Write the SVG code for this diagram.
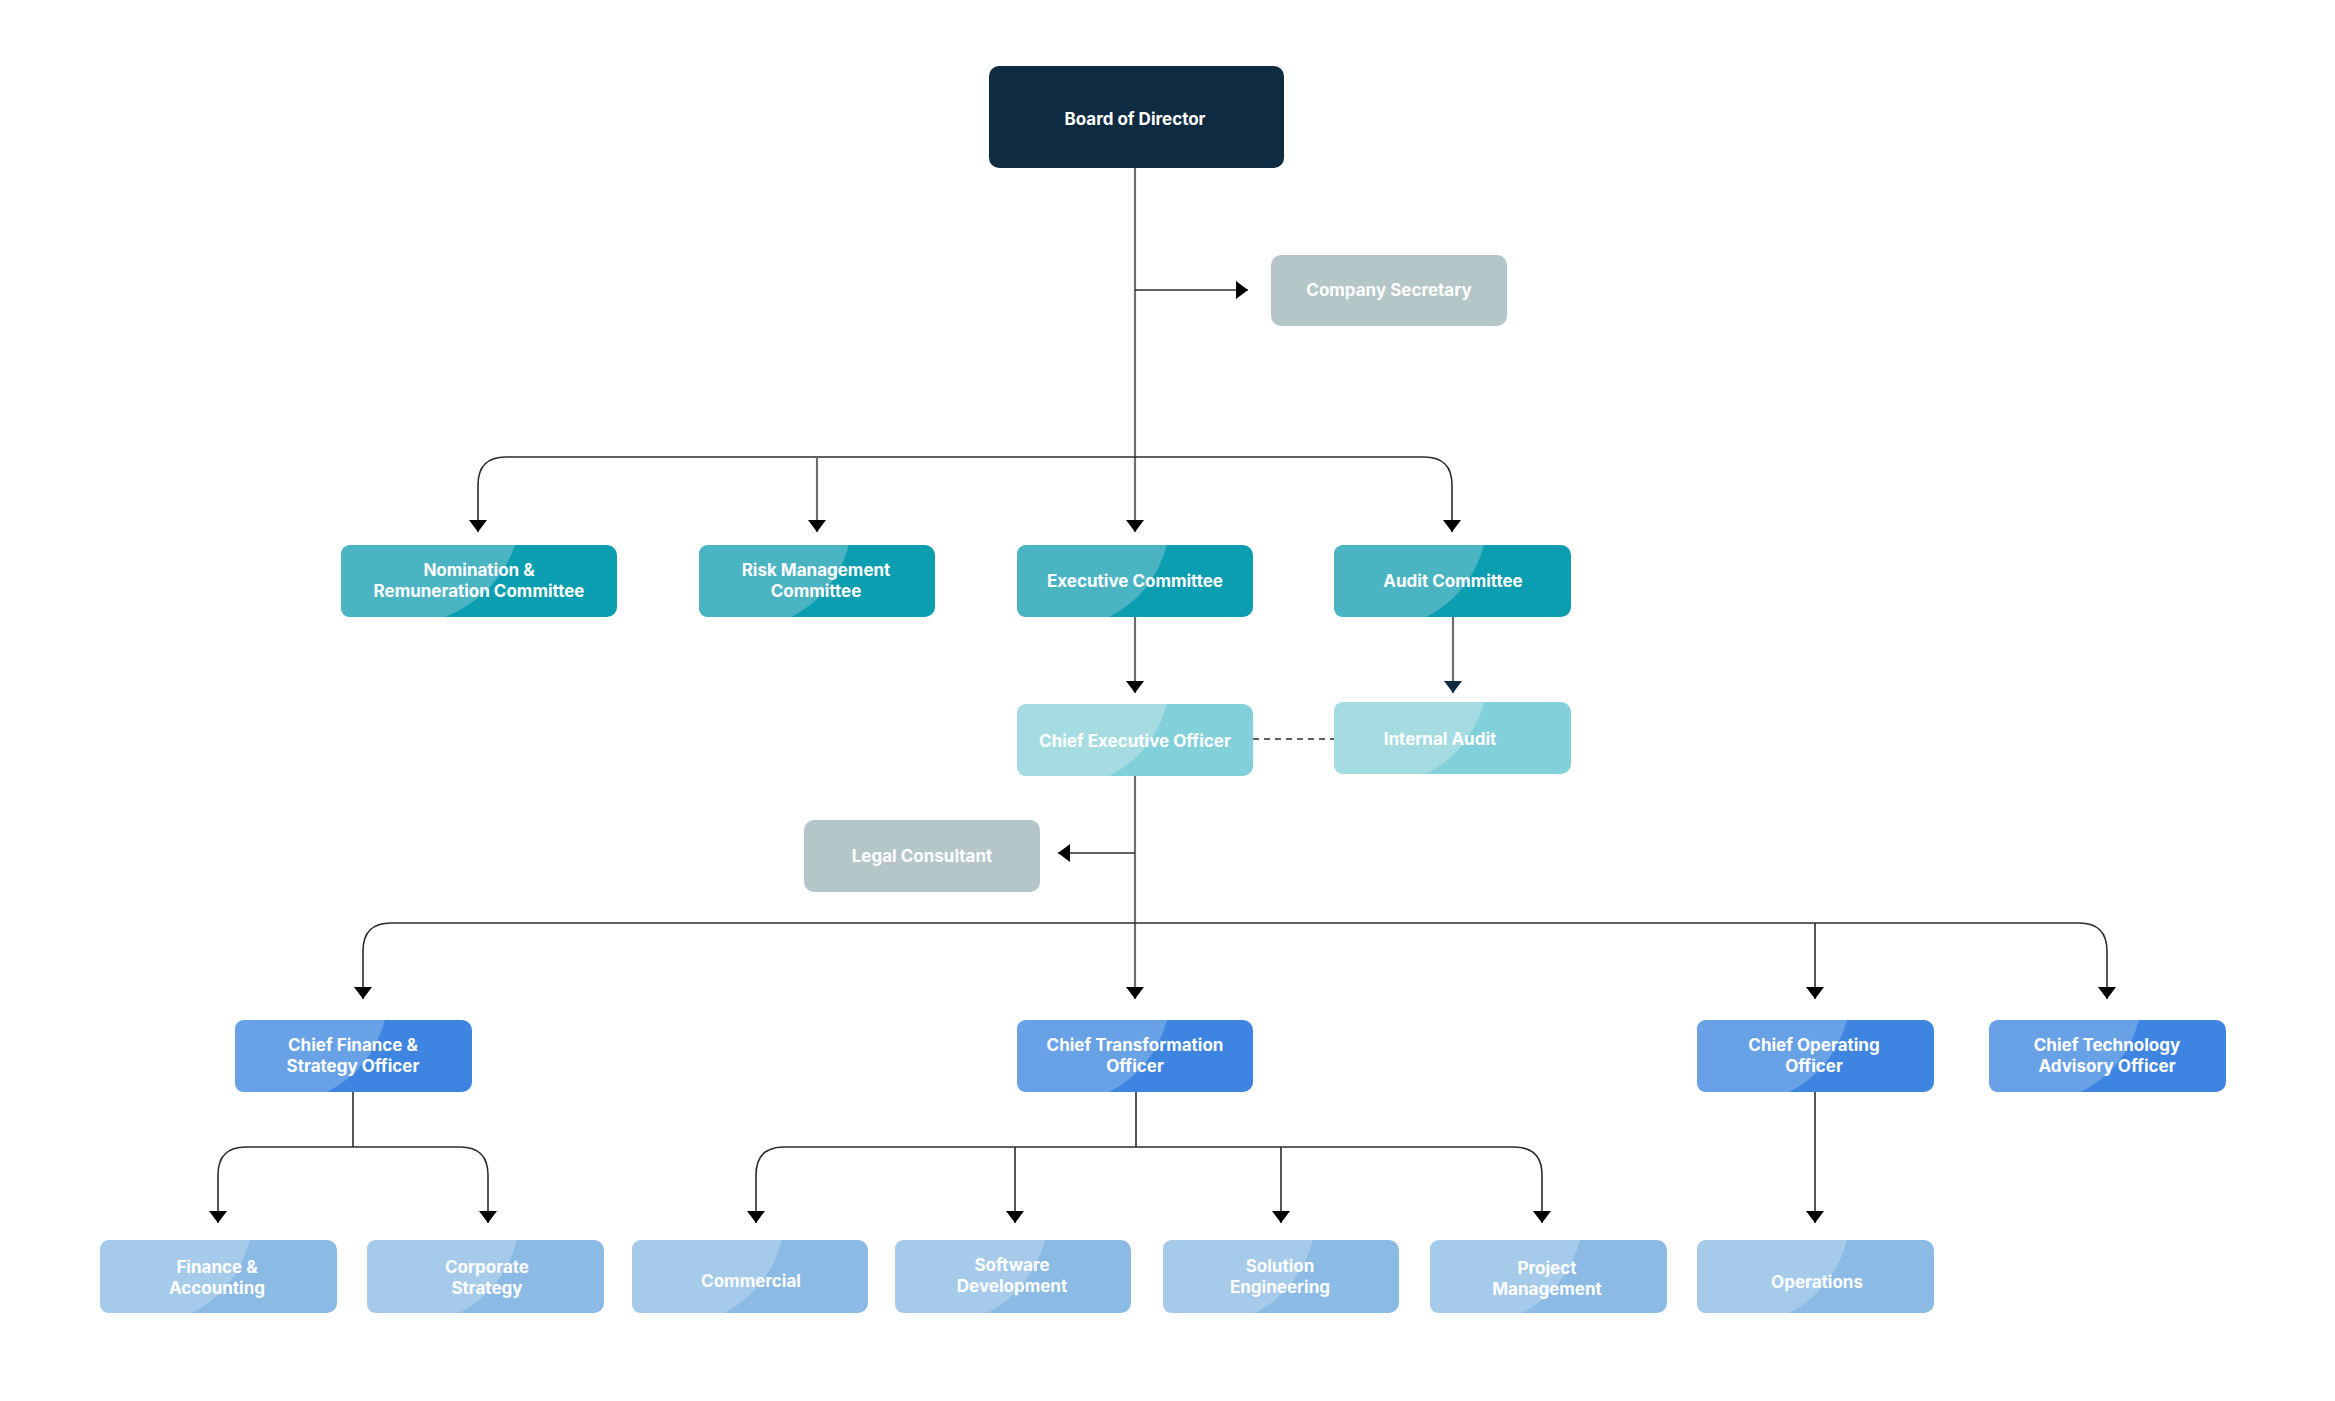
<svg xmlns="http://www.w3.org/2000/svg" width="2335" height="1401" viewBox="0 0 2335 1401">
<style>
.t{font-family:Inter,"Open Sans","Liberation Sans",sans-serif;font-weight:700;font-size:17px;fill:#ffffff;text-anchor:middle;dominant-baseline:central}
.c{fill:none;stroke:#2b2b2b;stroke-width:1.6}
.trunk{fill:none;stroke:#6e6e6e;stroke-width:2.2}
.d{fill:none;stroke:#2b2b2b;stroke-width:1.6;stroke-dasharray:6 5}
.navy{fill:#0f2b41}
.gray{fill:#b4c6c8}
.tealD{fill:#0b9db0}.tealL{fill:#4ab4c3}
.ltealD{fill:#82d0d9}.ltealL{fill:#a4dce2}
.blueD{fill:#3d85e0}.blueL{fill:#69a1e7}
.lblueD{fill:#8bbbe5}.lblueL{fill:#a6cbea}
</style>
<defs>
<marker id="ah" viewBox="0 0 12 18" refX="12" refY="9" markerWidth="12" markerHeight="18" markerUnits="userSpaceOnUse" orient="auto"><path d="M0,0 L12,9 L0,18 Z" fill="#000"/></marker>
<marker id="ahn" viewBox="0 0 12 18" refX="12" refY="9" markerWidth="12" markerHeight="18" markerUnits="userSpaceOnUse" orient="auto"><path d="M0,0 L12,9 L0,18 Z" fill="#0f2b41"/></marker>
</defs>

<g id="connectors">
<path class="trunk" d="M1135,168 V532" marker-end="url(#ah)"/>
<path class="c" d="M1135,290 H1248" marker-end="url(#ah)"/>
<path class="c" d="M1135,457 H506 Q478,457 478,485 V532" marker-end="url(#ah)"/>
<path class="c" d="M1135,457 H1424 Q1452,457 1452,485 V532" marker-end="url(#ah)"/>
<path class="trunk" d="M817,457 V532" marker-end="url(#ah)"/>
<path class="trunk" d="M1135,617 V693" marker-end="url(#ah)"/>
<path class="trunk" d="M1453,617 V693" marker-end="url(#ahn)"/>
<path class="d" d="M1253,739 H1334"/>
<path class="trunk" d="M1135,776 V999" marker-end="url(#ah)"/>
<path class="c" d="M1135,853 H1058" marker-end="url(#ah)"/>
<path class="c" d="M1135,923 H391 Q363,923 363,951 V999" marker-end="url(#ah)"/>
<path class="c" d="M1135,923 H2079 Q2107,923 2107,951 V999" marker-end="url(#ah)"/>
<path class="c" d="M1815,923 V999" marker-end="url(#ah)"/>
<path class="c" d="M353,1092 V1147"/>
<path class="c" d="M353,1147 H246 Q218,1147 218,1175 V1223" marker-end="url(#ah)"/>
<path class="c" d="M353,1147 H460 Q488,1147 488,1175 V1223" marker-end="url(#ah)"/>
<path class="c" d="M1136,1092 V1147"/>
<path class="c" d="M1136,1147 H784 Q756,1147 756,1175 V1223" marker-end="url(#ah)"/>
<path class="c" d="M1136,1147 H1514 Q1542,1147 1542,1175 V1223" marker-end="url(#ah)"/>
<path class="c" d="M1015,1147 V1223" marker-end="url(#ah)"/>
<path class="c" d="M1281,1147 V1223" marker-end="url(#ah)"/>
<path class="c" d="M1815,1092 V1223" marker-end="url(#ah)"/>
</g>

<g id="board">
<rect class="navy" x="989" y="66" width="295" height="102" rx="10"/>
<text class="t" x="1135" y="119">Board of Director</text>
</g>
<g id="company-secretary">
<rect class="gray" x="1271" y="255" width="236" height="71" rx="10"/>
<text class="t" x="1389" y="290">Company Secretary</text>
</g>

<g id="nomination">
<rect class="tealD" x="341" y="545" width="276" height="72" rx="10"/>
<path class="tealL" d="M341,555 Q341,545 351,545 H515 Q498,595 445,617 H351 Q341,617 341,607 Z"/>
<text class="t" x="479" y="570">Nomination &amp;</text>
<text class="t" x="479" y="591">Remuneration Committee</text>
</g>
<g id="risk">
<rect class="tealD" x="699" y="545" width="236" height="72" rx="10"/>
<path class="tealL" d="M699,555 Q699,545 709,545 H849 Q835,595 791,617 H709 Q699,617 699,607 Z"/>
<text class="t" x="816" y="570">Risk Management</text>
<text class="t" x="816" y="591">Committee</text>
</g>
<g id="executive">
<rect class="tealD" x="1017" y="545" width="236" height="72" rx="10"/>
<path class="tealL" d="M1017,555 Q1017,545 1027,545 H1167 Q1153,595 1109,617 H1027 Q1017,617 1017,607 Z"/>
<text class="t" x="1135" y="581">Executive Committee</text>
</g>
<g id="audit">
<rect class="tealD" x="1334" y="545" width="237" height="72" rx="10"/>
<path class="tealL" d="M1334,555 Q1334,545 1344,545 H1484 Q1470,595 1426,617 H1344 Q1334,617 1334,607 Z"/>
<text class="t" x="1453" y="581">Audit Committee</text>
</g>

<g id="ceo">
<rect class="ltealD" x="1017" y="704" width="236" height="72" rx="10"/>
<path class="ltealL" d="M1017,714 Q1017,704 1027,704 H1167 Q1153,754 1109,776 H1027 Q1017,776 1017,766 Z"/>
<text class="t" x="1135" y="741">Chief Executive Officer</text>
</g>
<g id="internal-audit">
<rect class="ltealD" x="1334" y="702" width="237" height="72" rx="10"/>
<path class="ltealL" d="M1334,712 Q1334,702 1344,702 H1484 Q1470,752 1426,774 H1344 Q1334,774 1334,764 Z"/>
<text class="t" x="1440" y="739">Internal Audit</text>
</g>

<g id="legal">
<rect class="gray" x="804" y="820" width="236" height="72" rx="10"/>
<text class="t" x="922" y="856">Legal Consultant</text>
</g>

<g id="cfso">
<rect class="blueD" x="235" y="1020" width="237" height="72" rx="10"/>
<path class="blueL" d="M235,1030 Q235,1020 245,1020 H385 Q371,1070 327,1092 H245 Q235,1092 235,1082 Z"/>
<text class="t" x="353" y="1045">Chief Finance &amp;</text>
<text class="t" x="353" y="1066">Strategy Officer</text>
</g>
<g id="ctro">
<rect class="blueD" x="1017" y="1020" width="236" height="72" rx="10"/>
<path class="blueL" d="M1017,1030 Q1017,1020 1027,1020 H1167 Q1153,1070 1109,1092 H1027 Q1017,1092 1017,1082 Z"/>
<text class="t" x="1135" y="1045">Chief Transformation</text>
<text class="t" x="1135" y="1066">Officer</text>
</g>
<g id="coo">
<rect class="blueD" x="1697" y="1020" width="237" height="72" rx="10"/>
<path class="blueL" d="M1697,1030 Q1697,1020 1707,1020 H1847 Q1833,1070 1789,1092 H1707 Q1697,1092 1697,1082 Z"/>
<text class="t" x="1814" y="1045">Chief Operating</text>
<text class="t" x="1814" y="1066">Officer</text>
</g>
<g id="ctao">
<rect class="blueD" x="1989" y="1020" width="237" height="72" rx="10"/>
<path class="blueL" d="M1989,1030 Q1989,1020 1999,1020 H2139 Q2125,1070 2081,1092 H1999 Q1989,1092 1989,1082 Z"/>
<text class="t" x="2107" y="1045">Chief Technology</text>
<text class="t" x="2107" y="1066">Advisory Officer</text>
</g>

<g id="finance-accounting">
<rect class="lblueD" x="100" y="1240" width="237" height="73" rx="10"/>
<path class="lblueL" d="M100,1250 Q100,1240 110,1240 H250 Q236,1290 192,1313 H110 Q100,1313 100,1303 Z"/>
<text class="t" x="217" y="1267">Finance &amp;</text>
<text class="t" x="217" y="1288">Accounting</text>
</g>
<g id="corporate-strategy">
<rect class="lblueD" x="367" y="1240" width="237" height="73" rx="10"/>
<path class="lblueL" d="M367,1250 Q367,1240 377,1240 H517 Q503,1290 459,1313 H377 Q367,1313 367,1303 Z"/>
<text class="t" x="487" y="1267">Corporate</text>
<text class="t" x="487" y="1288">Strategy</text>
</g>
<g id="commercial">
<rect class="lblueD" x="632" y="1240" width="236" height="73" rx="10"/>
<path class="lblueL" d="M632,1250 Q632,1240 642,1240 H782 Q768,1290 724,1313 H642 Q632,1313 632,1303 Z"/>
<text class="t" x="751" y="1281">Commercial</text>
</g>
<g id="software-dev">
<rect class="lblueD" x="895" y="1240" width="236" height="73" rx="10"/>
<path class="lblueL" d="M895,1250 Q895,1240 905,1240 H1045 Q1031,1290 987,1313 H905 Q895,1313 895,1303 Z"/>
<text class="t" x="1012" y="1265">Software</text>
<text class="t" x="1012" y="1286">Development</text>
</g>
<g id="solution-eng">
<rect class="lblueD" x="1163" y="1240" width="236" height="73" rx="10"/>
<path class="lblueL" d="M1163,1250 Q1163,1240 1173,1240 H1313 Q1299,1290 1255,1313 H1173 Q1163,1313 1163,1303 Z"/>
<text class="t" x="1280" y="1266">Solution</text>
<text class="t" x="1280" y="1287">Engineering</text>
</g>
<g id="project-mgmt">
<rect class="lblueD" x="1430" y="1240" width="237" height="73" rx="10"/>
<path class="lblueL" d="M1430,1250 Q1430,1240 1440,1240 H1580 Q1566,1290 1522,1313 H1440 Q1430,1313 1430,1303 Z"/>
<text class="t" x="1547" y="1268">Project</text>
<text class="t" x="1547" y="1289">Management</text>
</g>
<g id="operations">
<rect class="lblueD" x="1697" y="1240" width="237" height="73" rx="10"/>
<path class="lblueL" d="M1697,1250 Q1697,1240 1707,1240 H1847 Q1833,1290 1789,1313 H1707 Q1697,1313 1697,1303 Z"/>
<text class="t" x="1817" y="1282">Operations</text>
</g>
</svg>
